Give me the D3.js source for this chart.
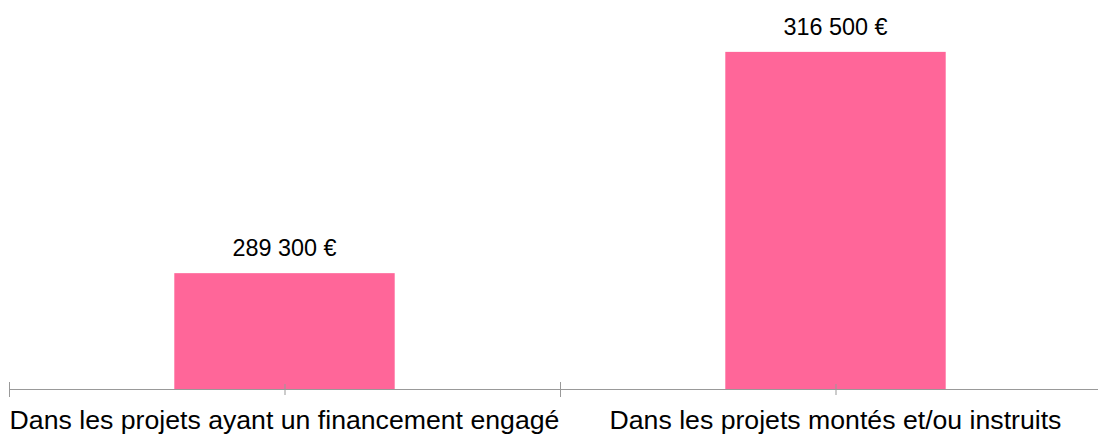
<!DOCTYPE html>
<html>
<head>
<meta charset="utf-8">
<script src="https://cdn.jsdelivr.net/npm/d3@7"></script>
<style>
  body { margin: 0; background: #fff; }
  text { font-family: "Liberation Sans", Arial, sans-serif; }
</style>
</head>
<body>
<svg id="chart"></svg>
<script>
var categories = ["Dans les projets ayant un financement engagé", "Dans les projets montés et/ou instruits"];
var values = [289300, 316500];
var valueLabels = ["289 300 €", "316 500 €"];

var width = 1098,
    height = 434;
var baseY = 389.5;

var svg = d3.select("#chart").attr("width", width).attr("height", height);

var x = d3.scaleBand().domain(categories).range([9, 1111]).padding(0);
var y = d3.scaleLinear().domain([275000, 320000]).range([baseY, 23.4]);
var barW = x.bandwidth() * 0.4;

svg.selectAll("rect.bar").data(values).enter().append("rect")
    .attr("class", "bar")
    .attr("x", function(d, i) { return x(categories[i]) + x.bandwidth() / 2 - barW / 2; })
    .attr("y", function(d) { return y(d); })
    .attr("width", barW)
    .attr("height", function(d) { return baseY - y(d); })
    .attr("fill", "#ff6699");

svg.selectAll("text.val").data(values).enter().append("text")
    .attr("class", "val")
    .attr("x", function(d, i) { return x(categories[i]) + x.bandwidth() / 2; })
    .attr("y", function(d) { return y(d) - 17; })
    .attr("text-anchor", "middle")
    .style("font-size", "23.4px")
    .attr("fill", "#000")
    .text(function(d, i) { return valueLabels[i]; });

// axis: line, band boundary ticks and center ticks
var axis = svg.append("g").attr("class", "axis");
axis.append("line")
    .attr("x1", x.range()[0]).attr("x2", width)
    .attr("y1", baseY).attr("y2", baseY)
    .attr("stroke", "#999").attr("stroke-width", 1.2);

var bounds = categories.map(function(c) { return x(c); }).concat([x.range()[1]]);
axis.selectAll("line.bt").data(bounds).enter().append("line")
    .attr("class", "bt")
    .attr("x1", function(d) { return d + 0.5; }).attr("x2", function(d) { return d + 0.5; })
    .attr("y1", baseY - 7.5).attr("y2", baseY + 7.5)
    .attr("stroke", "#999");

axis.selectAll("line.ct").data(categories).enter().append("line")
    .attr("class", "ct")
    .attr("x1", function(d) { return x(d) + x.bandwidth() / 2 + 0.5; })
    .attr("x2", function(d) { return x(d) + x.bandwidth() / 2 + 0.5; })
    .attr("y1", baseY - 5.5).attr("y2", baseY + 5.5)
    .attr("stroke", "#999");

axis.selectAll("text.cat").data(categories).enter().append("text")
    .attr("class", "cat")
    .attr("x", function(d) { return x(d) + x.bandwidth() / 2; })
    .attr("y", 429)
    .attr("text-anchor", "middle")
    .style("font-size", "26.67px")
    .attr("fill", "#000")
    .text(function(d) { return d; });
</script>
</body>
</html>
